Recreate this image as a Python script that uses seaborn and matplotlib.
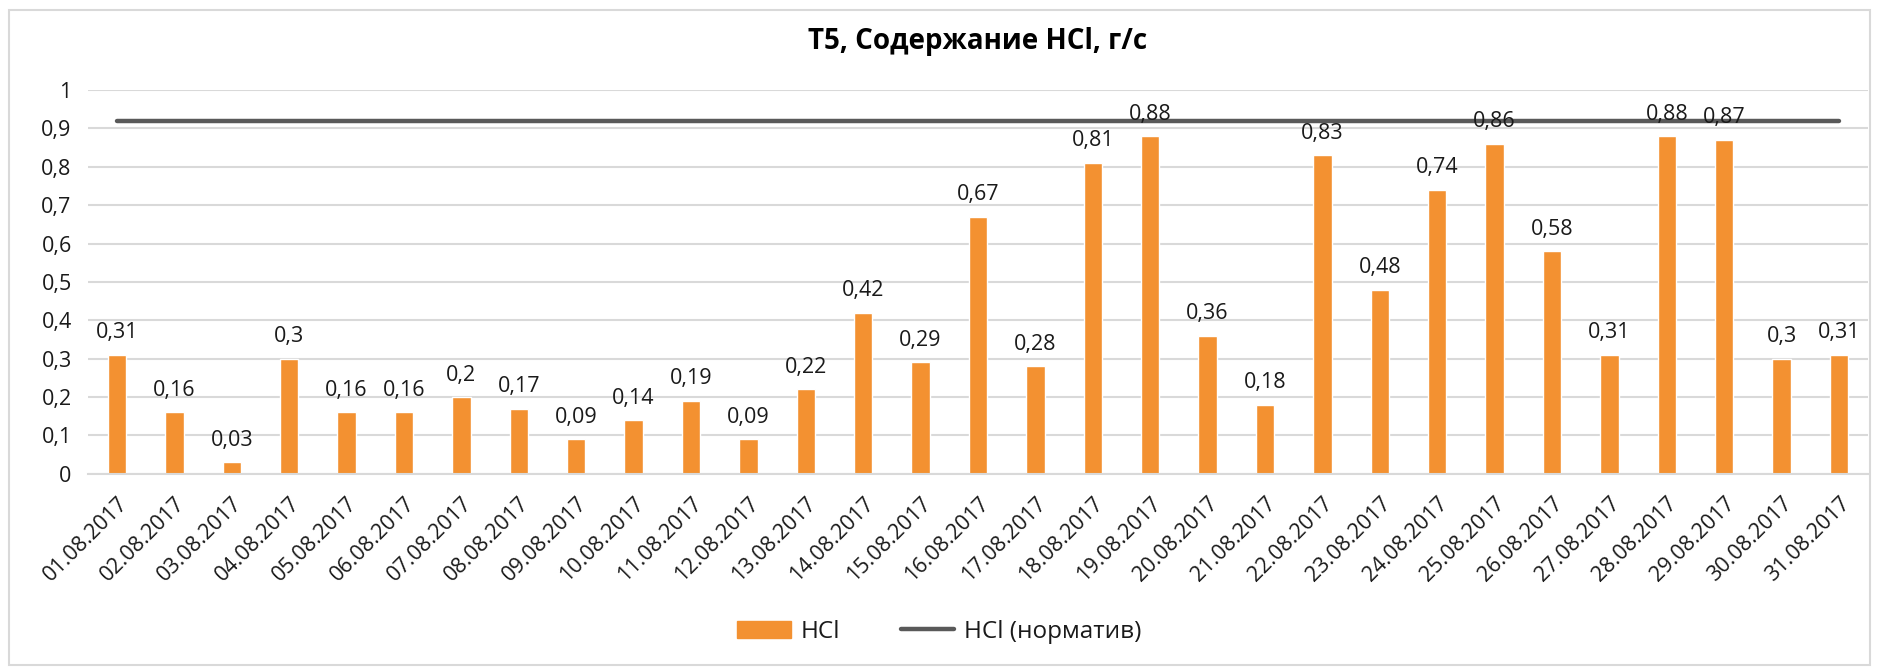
import matplotlib
matplotlib.use("Agg")
import matplotlib.pyplot as plt
from matplotlib.patches import Rectangle
from matplotlib.lines import Line2D
from matplotlib.ticker import FixedLocator
import seaborn as sns
import pandas as pd

dates = [f"{d:02d}.08.2017" for d in range(1, 32)]
hcl = [0.31, 0.16, 0.03, 0.3, 0.16, 0.16, 0.2, 0.17, 0.09, 0.14, 0.19, 0.09, 0.22, 0.42, 0.29,
       0.67, 0.28, 0.81, 0.88, 0.36, 0.18, 0.83, 0.48, 0.74, 0.86, 0.58, 0.31, 0.88, 0.87, 0.3, 0.31]
hcl_norm = [0.92] * len(dates)
yticks = [0, 0.1, 0.2, 0.3, 0.4, 0.5, 0.6, 0.7, 0.8, 0.9, 1]

bar_color = "#F39131"
line_color = "#595959"
grid_color = "#D9D9D9"
text_color = "#1a1a1a"


def fmt(v):
    return f"{v:g}".replace(".", ",")


def main():
    sns.set_style("white")
    plt.rcParams["font.family"] = ["Open Sans", "DejaVu Sans"]
    plt.rcParams["text.color"] = text_color

    df = pd.DataFrame({"date": dates, "HCl": hcl, "norm": hcl_norm})

    fig = plt.figure(figsize=(18.79, 6.72), dpi=100)
    ax = fig.add_axes([0.047, 0.295, 0.947, 0.571])

    sns.barplot(data=df, x="date", y="HCl", color=bar_color, width=0.32, saturation=1, ax=ax)
    ax.plot(df["date"], df["norm"], color=line_color, lw=3.2, solid_capstyle="round", zorder=3)

    for i, v in enumerate(hcl):
        ax.text(i, v + 0.03, fmt(v), ha="center", va="bottom", fontsize=15.5, color=text_color, zorder=4)

    ax.set_ylim(0, 1)
    ax.set_xlim(-0.5, len(dates) - 0.5)
    ax.set_yticks(yticks)
    ax.set_yticklabels([fmt(t) for t in yticks], fontsize=15.5, color=text_color)
    ax.yaxis.grid(True, color=grid_color, lw=1.5)
    ax.set_axisbelow(True)
    ax.tick_params(axis="y", length=0, pad=12)

    ax.set_xticks(range(len(dates)))
    ax.set_xticklabels(dates, rotation=45, ha="right", rotation_mode="anchor", fontsize=15.5, color=text_color)
    ax.tick_params(axis="x", which="major", length=0, pad=14)
    ax.xaxis.set_minor_locator(FixedLocator([i - 0.5 for i in range(len(dates) + 1)]))
    ax.tick_params(axis="x", which="minor", length=8, color=grid_color, width=1.5)

    for s in ["top", "right", "left"]:
        ax.spines[s].set_visible(False)
    ax.spines["bottom"].set_color(grid_color)
    ax.spines["bottom"].set_linewidth(1.5)
    ax.set_xlabel("")
    ax.set_ylabel("")

    fig.suptitle("Т5, Содержание HCl, г/с", x=0.52, y=0.96, fontsize=20, fontweight="bold", color="#000000")

    handles = [Rectangle((0, 0), 1, 1, color=bar_color),
               Line2D([0], [0], color=line_color, lw=3.2)]
    fig.legend(handles, ["HCl", "HCl (норматив)"], loc="center", bbox_to_anchor=(0.5, 0.06),
               ncol=2, frameon=False, fontsize=17.5, handlelength=2.2, columnspacing=2.5, handletextpad=0.4)

    fig.patches.append(Rectangle((0.005, 0.01), 0.99, 0.975, transform=fig.transFigure,
                                 fill=False, edgecolor=grid_color, lw=1.5))

    fig.savefig("out.png", dpi=100)
    plt.close(fig)


if __name__ == "__main__":
    main()
